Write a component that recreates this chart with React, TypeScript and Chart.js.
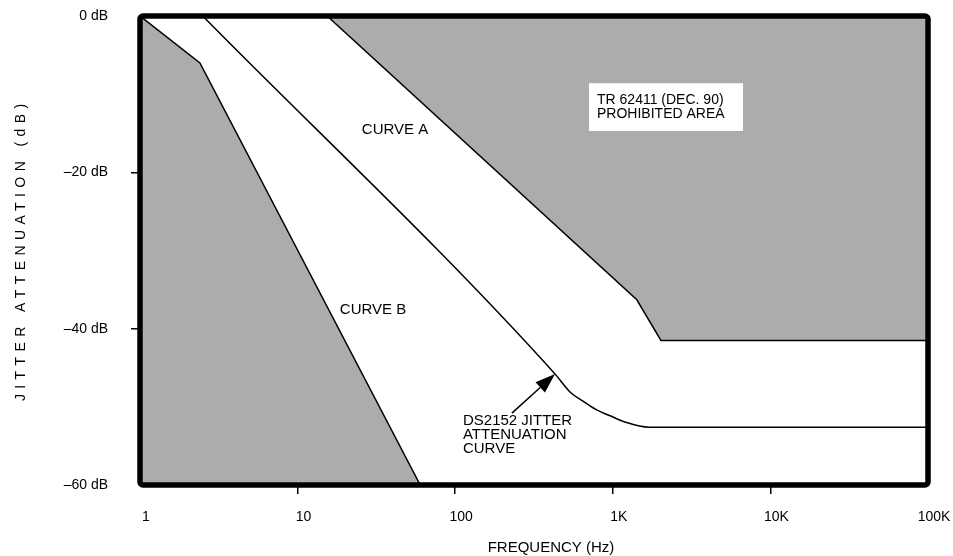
import React, { useEffect, useRef } from 'react';
import { Chart, registerables } from 'chart.js';

Chart.register(...registerables);

// ---- data ----
const FREQ_TICKS = [1, 10, 100, 1000, 10000, 100000];
const FREQ_TICK_LABELS = ['1', '10', '100', '1K', '10K', '100K'];
const DB_TICKS = [0, -20, -40, -60];

// Curve B (lower-left prohibited area boundary)
const CURVE_B_FREQ = [1, 2.4, 60];
const CURVE_B_DB = [0, -6, -60];

// Curve A (TR 62411 prohibited area boundary)
const CURVE_A_FREQ = [15.4, 1420, 2020, 100000];
const CURVE_A_DB = [0, -36.3, -41.5, -41.5];

// DS2152 jitter attenuation curve
const DS2152_FREQ = [2.5, 430, 535, 650, 790, 1000, 1180, 1700, 100000];
const DS2152_DB = [0, -45.8, -48.1, -49.3, -50.4, -51.3, -51.9, -52.6, -52.6];

const GRAY = '#acacac';
const FONT = '"Liberation Sans", Arial, Helvetica, sans-serif';

const toPoints = (xs: number[], ys: number[]) => xs.map((x, i) => ({ x, y: ys[i] }));

const overlayPlugin = {
  id: 'overlay',
  afterDatasetsDraw(chart: any) {
    const { ctx, chartArea: a, scales } = chart;
    const sx = scales.x;
    const sy = scales.y;
    const px = (f: number) => sx.getPixelForValue(f);
    const py = (d: number) => sy.getPixelForValue(d);
    ctx.save();

    // Prohibited area label box
    const bx1 = px(706), bx2 = px(6700), by1 = py(-8.6), by2 = py(-14.7);
    ctx.fillStyle = '#ffffff';
    ctx.fillRect(bx1, by1, bx2 - bx1, by2 - by1);
    ctx.fillStyle = '#000';
    ctx.font = `14px ${FONT}`;
    ctx.textAlign = 'left';
    ctx.textBaseline = 'middle';
    ctx.fillText('TR 62411 (DEC. 90)', px(794), py(-10.75));
    ctx.fillText('PROHIBITED AREA', px(794), py(-12.55));

    // Curve labels
    ctx.font = `15px ${FONT}`;
    ctx.textAlign = 'center';
    ctx.fillText('CURVE A', px(41.5), py(-14.6));
    ctx.fillText('CURVE B', px(30.1), py(-37.6));

    // DS2152 label
    ctx.textAlign = 'left';
    const lx = px(112);
    const ly = py(-51.8);
    ctx.fillText('DS2152 JITTER', lx, ly);
    ctx.fillText('ATTENUATION', lx, ly + 14);
    ctx.fillText('CURVE', lx, ly + 28);

    // Arrow
    const tx = px(229), ty = py(-50.8);
    const hx = px(430), hy = py(-45.8);
    const ang = Math.atan2(hy - ty, hx - tx);
    const headLen = 20, headHalf = 7;
    const bxp = hx - headLen * Math.cos(ang);
    const byp = hy - headLen * Math.sin(ang);
    ctx.strokeStyle = '#000';
    ctx.lineWidth = 1.5;
    ctx.beginPath();
    ctx.moveTo(tx, ty);
    ctx.lineTo(bxp, byp);
    ctx.stroke();
    ctx.beginPath();
    ctx.moveTo(hx, hy);
    ctx.lineTo(bxp + headHalf * Math.sin(ang), byp - headHalf * Math.cos(ang));
    ctx.lineTo(bxp - headHalf * Math.sin(ang), byp + headHalf * Math.cos(ang));
    ctx.closePath();
    ctx.fill();

    // Thick plot frame
    ctx.lineWidth = 5.5;
    ctx.lineJoin = 'round';
    ctx.beginPath();
    if (ctx.roundRect) ctx.roundRect(a.left, a.top, a.right - a.left, a.bottom - a.top, 3);
    else ctx.rect(a.left, a.top, a.right - a.left, a.bottom - a.top);
    ctx.stroke();

    // Axis titles
    ctx.fillStyle = '#000';
    ctx.font = `15px ${FONT}`;
    ctx.textAlign = 'center';
    ctx.textBaseline = 'middle';
    ctx.fillText('FREQUENCY (Hz)', (a.left + a.right) / 2 + 17, chart.height - 8);

    ctx.save();
    ctx.translate(21, (a.top + a.bottom) / 2 + 2);
    ctx.rotate(-Math.PI / 2);
    ctx.font = `14px ${FONT}`;
    (ctx as any).letterSpacing = '5.4px';
    ctx.fillText('JITTER ATTENUATION (dB)', 2.7, 0);
    ctx.restore();

    ctx.restore();
  },
};

export default function App() {
  const canvasRef = useRef<HTMLCanvasElement | null>(null);

  useEffect(() => {
    document.body.style.margin = '0';
    const canvas = canvasRef.current;
    if (!canvas) return;
    Chart.defaults.font.family = FONT;
    Chart.defaults.color = '#000';

    const edgeTickColor = (edges: number[]) => (c: any) =>
      c.tick && edges.includes(c.tick.value) ? 'rgba(0,0,0,0)' : '#000';

    const chart = new Chart(canvas, {
      type: 'line',
      data: {
        datasets: [
          {
            label: 'Curve B',
            data: toPoints(CURVE_B_FREQ, CURVE_B_DB),
            borderColor: '#000',
            borderWidth: 1.5,
            backgroundColor: GRAY,
            fill: 'start',
            pointRadius: 0,
            tension: 0,
          },
          {
            label: 'Curve A',
            data: toPoints(CURVE_A_FREQ, CURVE_A_DB),
            borderColor: '#000',
            borderWidth: 1.5,
            backgroundColor: GRAY,
            fill: 'end',
            pointRadius: 0,
            tension: 0,
          },
          {
            label: 'DS2152',
            data: toPoints(DS2152_FREQ, DS2152_DB),
            borderColor: '#000',
            borderWidth: 1.5,
            fill: false,
            pointRadius: 0,
            cubicInterpolationMode: 'monotone',
          },
        ],
      },
      options: {
        animation: false,
        responsive: true,
        maintainAspectRatio: false,
        layout: { padding: { top: 16, right: 25, left: 0, bottom: 0 } },
        plugins: {
          legend: { display: false },
          tooltip: { enabled: false },
        },
        scales: {
          x: {
            type: 'logarithmic',
            min: 1,
            max: 100000,
            afterBuildTicks: (s: any) => {
              s.ticks = FREQ_TICKS.map((v) => ({ value: v }));
            },
            afterFit: (s: any) => {
              s.height = 71;
              s.paddingLeft = 0;
              s.paddingRight = 0;
              s.paddingTop = 0;
              s.paddingBottom = 0;
            },
            ticks: {
              autoSkip: false,
              maxRotation: 0,
              padding: 15,
              labelOffset: 6,
              font: { size: 14 },
              color: '#000',
              callback: (v: any) => {
                const i = FREQ_TICKS.indexOf(Number(v));
                return i >= 0 ? FREQ_TICK_LABELS[i] : '';
              },
            },
            grid: {
              drawOnChartArea: false,
              drawTicks: true,
              tickLength: 9,
              lineWidth: 1.5,
              color: edgeTickColor([1, 100000]),
            },
            border: { display: false },
          },
          y: {
            type: 'linear',
            min: -60,
            max: 0,
            afterBuildTicks: (s: any) => {
              s.ticks = DB_TICKS.map((v) => ({ value: v }));
            },
            afterFit: (s: any) => {
              s.width = 140;
              s.paddingLeft = 0;
              s.paddingRight = 0;
              s.paddingTop = 0;
              s.paddingBottom = 0;
            },
            ticks: {
              padding: 23,
              font: { size: 14 },
              color: '#000',
              callback: (v: any) => (Number(v) === 0 ? '0 dB' : `\u2013${-Number(v)} dB`),
            },
            grid: {
              drawOnChartArea: false,
              drawTicks: true,
              tickLength: 9,
              lineWidth: 1.5,
              color: edgeTickColor([0, -60]),
            },
            border: { display: false },
          },
        },
      } as any,
      plugins: [overlayPlugin],
    });

    return () => chart.destroy();
  }, []);

  return (
    <div style={{ position: 'absolute', left: 0, top: 0, width: 953, height: 556, background: '#fff' }}>
      <canvas ref={canvasRef} style={{ display: 'block' }} />
    </div>
  );
}
